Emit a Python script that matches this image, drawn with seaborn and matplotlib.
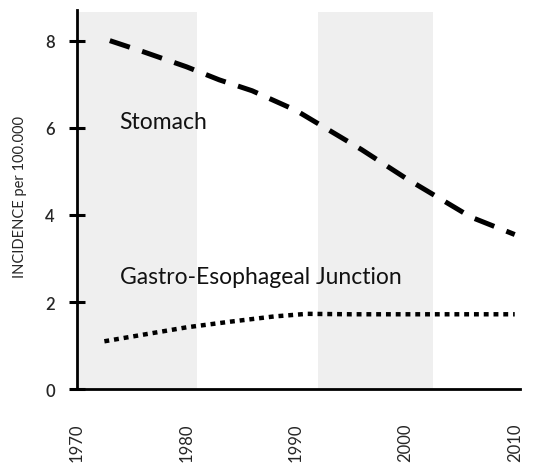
import matplotlib
matplotlib.use("Agg")
import matplotlib.pyplot as plt
import seaborn as sns
import pandas as pd

sns.set_theme(style="ticks")
plt.rcParams["font.family"] = ["Lato", "DejaVu Sans"]

# values
stomach_years = [1973, 1976, 1980, 1983, 1986, 1990, 1993, 1996, 2000, 2003, 2006, 2010]
stomach_rate = [8.0, 7.75, 7.4, 7.1, 6.85, 6.4, 5.95, 5.5, 4.85, 4.4, 3.95, 3.55]
gej_years = [1972.5, 1976, 1980, 1984, 1988, 1991, 1995, 2000, 2005, 2010]
gej_rate = [1.1, 1.25, 1.42, 1.55, 1.67, 1.73, 1.72, 1.72, 1.72, 1.72]
shade_bands = [(1970, 1981), (1992, 2002.5)]
x_ticks = [1970, 1980, 1990, 2000, 2010]
y_ticks = [0, 2, 4, 6, 8]

stomach = pd.DataFrame({"year": stomach_years, "rate": stomach_rate})
gej = pd.DataFrame({"year": gej_years, "rate": gej_rate})

fig = plt.figure(figsize=(5.54, 4.64), dpi=100)
ax = fig.add_axes([0.139, 0.159, 0.80, 0.817])

for lo, hi in shade_bands:
    ax.axvspan(lo, hi, ymin=0, ymax=0.995, color="#efefef", lw=0, zorder=0)

sns.lineplot(data=stomach, x="year", y="rate", ax=ax, color="black", lw=3.6,
             dashes=False, zorder=3)
ax.lines[-1].set_dashes([4.2, 2.6])
ax.lines[-1].set_dash_capstyle("butt")
sns.lineplot(data=gej, x="year", y="rate", ax=ax, color="black", lw=3.2,
             dashes=False, zorder=3)
ax.lines[-1].set_dashes([1.1, 1.1])
ax.lines[-1].set_dash_capstyle("butt")

ax.text(1973.9, 6.15, "Stomach", fontsize=16.5, va="center", ha="left", color="#111111")
ax.text(1973.9, 2.59, "Gastro-Esophageal Junction", fontsize=16.5, va="center", ha="left",
        color="#111111")

ax.set_xlim(1970, 2010.5)
ax.set_ylim(0, 8.7)
ax.set_xticks(x_ticks)
ax.set_xticklabels([str(t) for t in x_ticks], rotation=90, fontsize=12)
ax.set_yticks(y_ticks)
ax.set_yticklabels([str(t) for t in y_ticks], fontsize=12, fontweight="semibold")
ax.tick_params(axis="y", left=True, direction="inout", length=12, width=2.2,
               color="black", pad=10)
ax.tick_params(axis="x", bottom=True, length=0, pad=24)
ax.set_xlabel("")
ax.set_ylabel("INCIDENCE per 100.000", fontsize=10.5)
ax.yaxis.set_label_coords(-0.112, 0.51)

for side in ["top", "right"]:
    ax.spines[side].set_visible(False)
for side in ["left", "bottom"]:
    ax.spines[side].set_color("black")
    ax.spines[side].set_linewidth(2)

plt.savefig("out.png", dpi=100)
